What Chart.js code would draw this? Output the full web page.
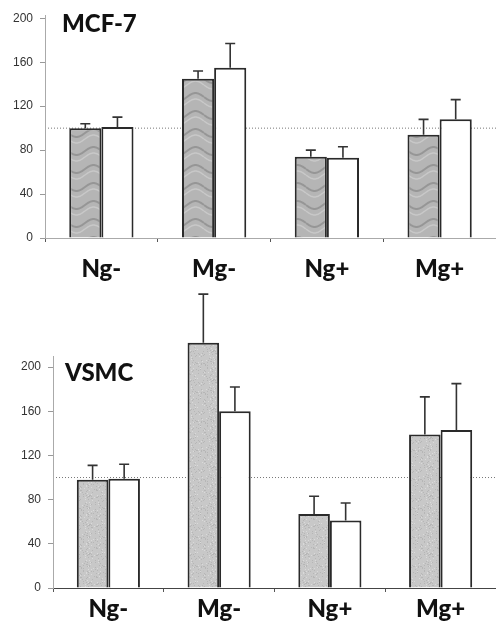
<!DOCTYPE html>
<html>
<head>
<meta charset="utf-8">
<script src="https://cdn.jsdelivr.net/npm/chart.js@4.4.1/dist/chart.umd.min.js"></script>
<style>
  html, body { margin: 0; padding: 0; background: #fff; overflow: hidden; }
  .box { position: absolute; left: 0; width: 496px; }
  #b1 { top: 0; height: 290px; }
  #b2 { top: 290px; height: 332px; }
</style>
</head>
<body>
<div class="box" id="b1"><canvas id="c1"></canvas></div>
<div class="box" id="b2"><canvas id="c2"></canvas></div>
<script>
// ---- data ----
const categories = ['Ng-', 'Mg-', 'Ng+', 'Mg+'];
const yTicks = [0, 40, 80, 120, 160, 200];
const referenceLevel = 100;

const mcfGray = [100, 145, 74, 94];
const mcfGrayErr = [4, 7, 6, 14];
const mcfWhite = [101, 155, 73, 108];
const mcfWhiteErr = [9, 22, 10, 18];

const vsmcGray = [98, 222, 67, 139];
const vsmcGrayErr = [13, 44, 16, 34];
const vsmcWhite = [99, 160, 61, 143];
const vsmcWhiteErr = [13, 22, 16, 42];

// ---- patterns (styling only) ----
function wavePattern() {
  const c = document.createElement('canvas');
  c.width = 34; c.height = 18;
  const g = c.getContext('2d');
  g.fillStyle = '#b5b5b5';
  g.fillRect(0, 0, 34, 18);
  const wave = (off, color, w) => {
    g.strokeStyle = color;
    g.lineWidth = w;
    for (const shift of [-18, 0, 18]) {
      g.beginPath();
      for (let x = 0; x <= 34; x++) {
        const y = off + shift + 4 * Math.sin(x / 34 * 2 * Math.PI);
        if (x === 0) g.moveTo(x, y); else g.lineTo(x, y);
      }
      g.stroke();
    }
  };
  wave(7, '#969696', 2);
  wave(13, '#c8c8c8', 1.5);
  return g.createPattern(c, 'repeat');
}
function specklePattern() {
  const c = document.createElement('canvas');
  c.width = 31; c.height = 29;
  const g = c.getContext('2d');
  g.fillStyle = '#c8c8c8';
  g.fillRect(0, 0, 31, 29);
  let h = 12345;
  for (let i = 0; i < 140; i++) {
    h = (h * 1103515245 + 12345) & 0x7fffffff;
    const px = h % 31;
    h = (h * 1103515245 + 12345) & 0x7fffffff;
    const py = h % 29;
    g.fillStyle = i % 3 === 0 ? '#dadada' : '#b6b6b6';
    g.fillRect(px, py, 1, 1);
  }
  return g.createPattern(c, 'repeat');
}

// ---- plugins ----
const refLinePlugin = {
  id: 'refLine',
  beforeDatasetsDraw(chart) {
    const { ctx, chartArea, scales } = chart;
    const y = scales.y.getPixelForValue(referenceLevel);
    ctx.save();
    ctx.strokeStyle = '#777';
    ctx.lineWidth = 1;
    ctx.setLineDash([1, 2]);
    ctx.beginPath();
    ctx.moveTo(chartArea.left + 3, y);
    ctx.lineTo(chartArea.right, y);
    ctx.stroke();
    ctx.restore();
  }
};
const errorBarPlugin = {
  id: 'errorBars',
  afterDatasetsDraw(chart) {
    const { ctx, scales } = chart;
    ctx.save();
    ctx.strokeStyle = '#333';
    ctx.lineWidth = 1.6;
    chart.data.datasets.forEach((ds, di) => {
      const meta = chart.getDatasetMeta(di);
      meta.data.forEach((bar, i) => {
        const top = scales.y.getPixelForValue(ds.data[i]);
        const e = scales.y.getPixelForValue(ds.data[i] + ds.errors[i]);
        ctx.beginPath();
        ctx.moveTo(bar.x, top);
        ctx.lineTo(bar.x, e);
        ctx.moveTo(bar.x - 5, e);
        ctx.lineTo(bar.x + 5, e);
        ctx.stroke();
      });
    });
    ctx.restore();
  }
};
const panelTitlePlugin = {
  id: 'panelTitle',
  afterDraw(chart, args, opts) {
    const { ctx, chartArea } = chart;
    ctx.save();
    ctx.fillStyle = '#111';
    ctx.font = '900 24px Lato';
    ctx.textBaseline = 'middle';
    ctx.textAlign = 'left';
    ctx.fillText(opts.text, chartArea.left + opts.dx, opts.y);
    ctx.restore();
  }
};

function makeChart(id, gray, grayErr, white, whiteErr, fill, cfg) {
  return new Chart(document.getElementById(id), {
    type: 'bar',
    data: {
      labels: categories,
      datasets: [
        { data: gray, errors: grayErr, backgroundColor: fill, borderColor: '#2a2a2a', borderWidth: 2, clip: false },
        { data: white, errors: whiteErr, backgroundColor: '#ffffff', borderColor: '#2a2a2a', borderWidth: 2, clip: false }
      ]
    },
    options: {
      responsive: true,
      maintainAspectRatio: false,
      animation: false,
      events: [],
      layout: { padding: { top: cfg.padTop, left: 0, right: 0, bottom: 0 } },
      datasets: { bar: { categoryPercentage: 0.57, barPercentage: 1 } },
      plugins: {
        legend: { display: false },
        tooltip: { enabled: false },
        panelTitle: { text: cfg.title, dx: cfg.titleDx, y: cfg.titleY }
      },
      scales: {
        x: {
          afterFit(s) { s.height = cfg.xHeight; },
          grid: { drawOnChartArea: false, tickLength: 4, color: '#555', offset: true },
          border: { color: cfg.xAxisColor, width: 1 },
          ticks: { color: '#111', font: { family: 'Lato', size: 24, weight: '900' }, padding: cfg.xPad }
        },
        y: {
          min: 0, max: cfg.max,
          afterFit(s) { s.width = cfg.yWidth; },
          afterBuildTicks(s) { s.ticks = yTicks.map(v => ({ value: v })); },
          grid: { drawOnChartArea: false, tickLength: 5, color: '#999' },
          border: { color: '#aaa', width: 1 },
          ticks: { color: '#333', font: { family: 'Liberation Sans', size: 12 }, padding: 7 }
        }
      }
    },
    plugins: [refLinePlugin, errorBarPlugin, panelTitlePlugin]
  });
}

makeChart('c1', mcfGray, mcfGrayErr, mcfWhite, mcfWhiteErr, wavePattern(),
  { max: 203, padTop: 15, xHeight: 52, xPad: 13, yWidth: 45, xAxisColor: '#aaa', title: 'MCF-7', titleDx: 17, titleY: 24 });
makeChart('c2', vsmcGray, vsmcGrayErr, vsmcWhite, vsmcWhiteErr, specklePattern(),
  { max: 210, padTop: 66, xHeight: 34, xPad: 3, yWidth: 53, xAxisColor: '#444', title: 'VSMC', titleDx: 12, titleY: 83 });
</script>
</body>
</html>
